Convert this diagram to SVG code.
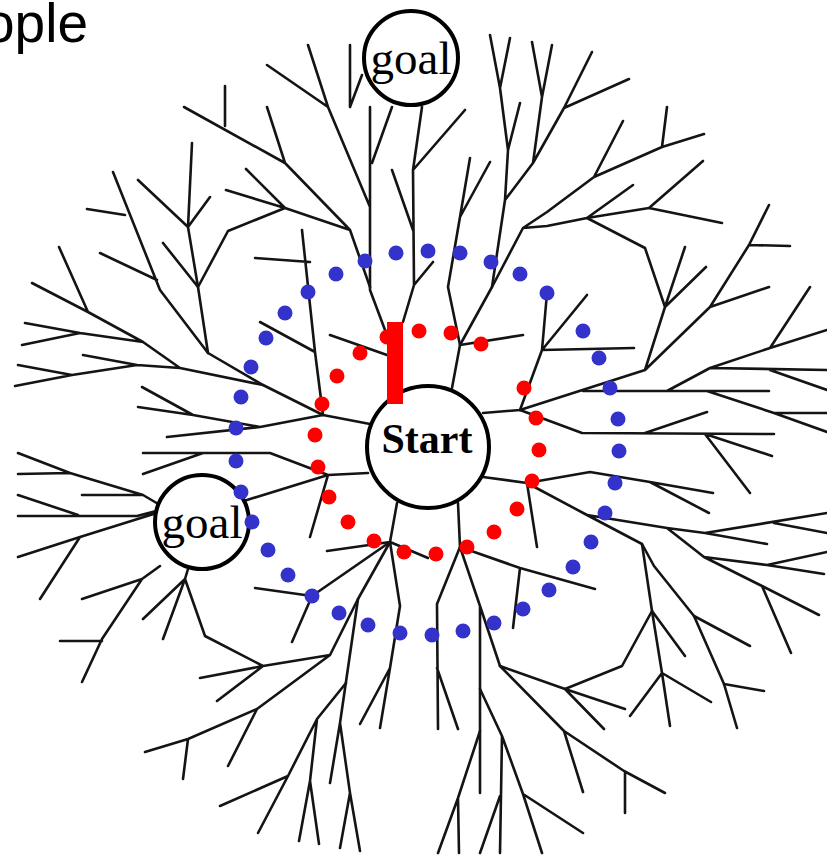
<svg xmlns="http://www.w3.org/2000/svg" width="827" height="856" viewBox="0 0 827 856">
<style>
.br{fill:none;stroke:#141414;stroke-width:2.6;stroke-linecap:round;stroke-linejoin:round}
.node{fill:#fff;stroke:#000;stroke-width:4}
.rd{fill:#ff0000}
.bd{fill:#3333cc}
.lbl{font-family:"Liberation Serif","Times New Roman",serif;fill:#000;text-anchor:middle}
</style>
<rect width="827" height="856" fill="#fff"/>
<text x="-16" y="42" font-family="Liberation Sans, Arial, sans-serif" font-size="55" fill="#000">ople</text>
<g id="connectors" class="br">
<path d="M267,65 L328,107 L370,207 M308,45 L328,107 M350,45 L350,107 L362,75 M370,107 L370,290 L385,330 M372,163 L392,107"/>
<path d="M184,107 L285,163 L350,230 L370,287 M225,126 L225,86 M267,107 L285,163 M246,169 L285,208 L350,230 M226,190 L285,208 M285,208 L228,231 L198,287"/>
<path d="M192,143 L188,227 L198,287 L208,353 L263,385 L323,415 L370,424 M138,180 L188,227 M210,197 L188,227 M163,243 L198,287"/>
<path d="M113,172 L160,290 L208,353 M87,209 L125,215 M100,253 L157,280"/>
<path d="M59,247 L88,312 L143,342 L180,368 L263,385 M32,283 L88,312 M25,323 L80,333 L143,342 M22,345 L80,333 M18,365 L72,375 L137,365 L180,368 M15,386 L72,375 M83,355 L137,365"/>
<path d="M142,387 L193,415 L260,427 L323,415 M138,407 L193,415 M167,437 L260,427"/>
<path d="M302,230 L315,352 L323,415 M255,258 L310,262 M260,322 L315,352 M330,335 L387,355"/>
<path d="M392,170 L413,230 M422,107 L413,170 L414,285 L403,322 M413,170 L465,110 M433,262 L414,285"/>
<path d="M490,35 L500,88 L508,150 L505,200 L492,287 L460,345 L452,388 M510,38 L500,88 M520,103 L508,150 M532,42 L542,97 L533,163 L505,200 M552,45 L542,97 M592,52 L564,108 L533,163 M629,79 L564,108"/>
<path d="M470,158 L460,217 L448,287 L460,345 M490,162 L460,217 M460,345 L523,335"/>
<path d="M623,121 L594,177 L547,212 L523,228 L492,287 M667,107 L662,147 M704,134 L662,147 L594,177 M633,185 L587,218 L547,226 L523,228 M703,161 L649,208 L587,218 M722,223 L649,208"/>
<path d="M587,218 L645,248 L665,307 L645,370 L520,410 L483,413 M685,247 L665,307 M706,267 L665,307 M645,370 L710,307 L749,245 L769,205 M749,245 L790,246 M710,307 L769,287"/>
<path d="M547,293 L542,350 L520,410 M542,350 L587,295 M542,350 L634,348"/>
<path d="M583,391 L769,391 M667,391 L710,368 L827,370 M710,368 L770,348 L810,287 M770,348 L827,330 M770,370 L827,390 M707,391 L774,413 L827,413 M774,413 L827,432"/>
<path d="M520,410 L582,433 L774,434 M645,433 L707,412 M705,434 L772,456 M705,434 L750,493"/>
<path d="M483,477 L527,483 L590,472 L650,482 L713,493 M650,482 L709,513 M527,483 L537,547"/>
<path d="M527,483 L587,515 L642,544 L654,566 L694,616 L724,684 L737,728 M587,515 L667,528 L705,533 L767,544 M705,533 L827,513 M774,523 L827,533 M667,528 L704,557 L767,565 L827,552 M767,565 L824,574 M704,557 L762,586 L819,615 M762,586 L791,653"/>
<path d="M642,544 L652,611 L662,673 L670,726 M652,611 L685,656 M662,673 L630,716 M662,673 L711,702 M694,616 L750,646 M724,684 L764,691"/>
<path d="M458,503 L460,547 L437,604 L438,729 M437,668 L458,729 M460,547 L480,606 L480,793 M480,606 L500,666 L565,689 L622,666 L652,611 M565,689 L625,709 M565,689 L604,729"/>
<path d="M500,666 L564,731 L624,771 L665,793 M564,731 L583,792 M625,773 L625,813"/>
<path d="M480,689 L502,736 L500,853 M502,736 L523,794 L542,853 M523,794 L583,833 M500,796 L480,853 M480,731 L458,798 L438,853 M458,798 L459,853"/>
<path d="M460,547 L520,568 L595,589 M520,568 L513,628"/>
<path d="M397,503 L390,542 L428,558 M327,551 L390,542 M390,542 L400,606 L390,668 L380,728 M390,668 L360,724"/>
<path d="M390,542 L358,599 L340,723 L350,793 L360,851 M340,723 L330,783 M350,793 L340,848"/>
<path d="M346,683 L317,719 L310,781 L299,841 M310,781 L319,844 M317,719 L288,776 L258,833 M288,776 L220,806"/>
<path d="M390,542 L312,596 L292,642 M255,588 L312,596"/>
<path d="M358,599 L330,655 L263,666 L205,636 L185,579 L188,569 M145,752 L188,739 L257,709 L330,655 M188,739 L183,779 M257,709 L228,766 M200,678 L263,666 M217,701 L263,666 M185,579 L143,619 M185,579 L163,639"/>
<path d="M368,473 L328,475 L270,453 L143,453 M143,474 L203,453 M328,475 L310,537 M328,475 L247,500 L200,515"/>
<path d="M18,453 L70,473 L143,495 L160,505 M18,474 L70,473 M82,495 L143,495 M18,495 L78,515 M18,516 L137,516 L160,510 M18,557 L80,537 L160,512 M80,537 L40,599"/>
<path d="M82,599 L142,579 L160,566 M142,579 L102,639 L82,682 M60,641 L102,641"/>
</g>
<g id="goal-top">
<circle class="node" cx="411" cy="58" r="47"/>
<text class="lbl" x="411" y="74" font-size="47">goal</text>
</g>
<g id="goal-left">
<circle class="node" cx="202" cy="522" r="47"/>
<text class="lbl" x="202" y="538" font-size="47">goal</text>
</g>
<g id="start">
<circle class="node" cx="428" cy="447" r="61"/>
<text class="lbl" x="427" y="453" font-size="42" font-weight="bold">Start</text>
</g>
<g id="red-frontier" class="rd">
<circle cx="387" cy="337" r="7.5"/><circle cx="419" cy="331" r="7.5"/><circle cx="451" cy="333" r="7.5"/><circle cx="481" cy="344" r="7.5"/>
<circle cx="360" cy="353" r="7.5"/><circle cx="337" cy="376" r="7.5"/><circle cx="322" cy="404" r="7.5"/><circle cx="315" cy="435" r="7.5"/>
<circle cx="318" cy="467" r="7.5"/><circle cx="329" cy="497" r="7.5"/><circle cx="348" cy="522" r="7.5"/><circle cx="374" cy="541" r="7.5"/>
<circle cx="404" cy="552" r="7.5"/><circle cx="436" cy="554" r="7.5"/><circle cx="467" cy="547" r="7.5"/><circle cx="494" cy="532" r="7.5"/>
<circle cx="517" cy="509" r="7.5"/><circle cx="532" cy="481" r="7.5"/><circle cx="539" cy="450" r="7.5"/><circle cx="536" cy="418" r="7.5"/>
<circle cx="524" cy="388" r="7.5"/>
</g>
<rect id="obstacle" x="387" y="322" width="16" height="82" fill="#ff0000"/>
<g id="blue-frontier" class="bd">
<circle cx="336" cy="274" r="7.5"/><circle cx="308" cy="292" r="7.5"/><circle cx="285" cy="313" r="7.5"/><circle cx="266" cy="338" r="7.5"/>
<circle cx="251" cy="367" r="7.5"/><circle cx="241" cy="397" r="7.5"/><circle cx="236" cy="428" r="7.5"/><circle cx="236" cy="461" r="7.5"/>
<circle cx="241" cy="492" r="7.5"/><circle cx="252" cy="522" r="7.5"/><circle cx="268" cy="550" r="7.5"/><circle cx="288" cy="575" r="7.5"/>
<circle cx="312" cy="596" r="7.5"/><circle cx="339" cy="613" r="7.5"/><circle cx="368" cy="625" r="7.5"/><circle cx="400" cy="633" r="7.5"/>
<circle cx="432" cy="635" r="7.5"/><circle cx="463" cy="631" r="7.5"/><circle cx="494" cy="623" r="7.5"/><circle cx="523" cy="609" r="7.5"/>
<circle cx="549" cy="590" r="7.5"/><circle cx="573" cy="567" r="7.5"/><circle cx="591" cy="542" r="7.5"/><circle cx="605" cy="513" r="7.5"/>
<circle cx="615" cy="483" r="7.5"/><circle cx="619" cy="451" r="7.5"/><circle cx="618" cy="419" r="7.5"/><circle cx="610" cy="388" r="7.5"/>
<circle cx="599" cy="358" r="7.5"/><circle cx="583" cy="331" r="7.5"/><circle cx="547" cy="293" r="7.5"/><circle cx="520" cy="274" r="7.5"/>
<circle cx="491" cy="262" r="7.5"/><circle cx="460" cy="253" r="7.5"/><circle cx="428" cy="251" r="7.5"/><circle cx="396" cy="253" r="7.5"/>
<circle cx="365" cy="261" r="7.5"/>
</g>
</svg>
